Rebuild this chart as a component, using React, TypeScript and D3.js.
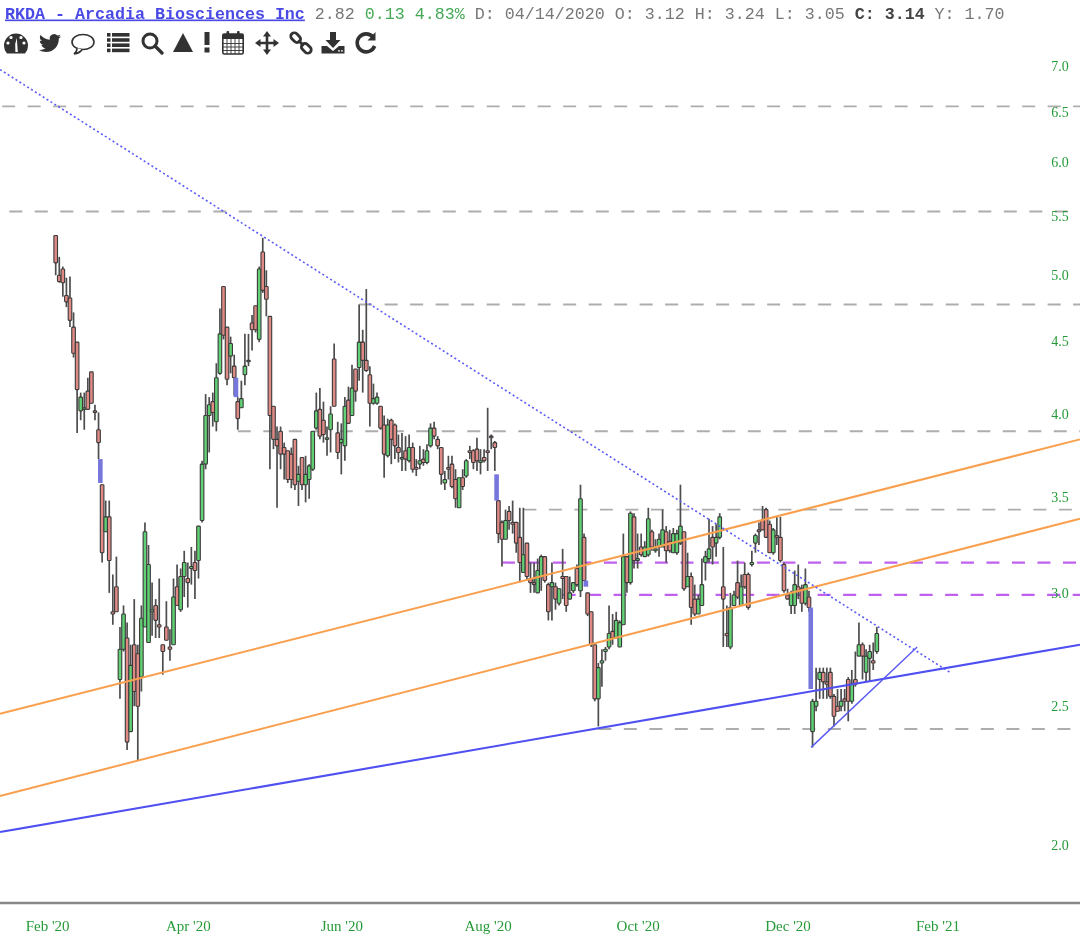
import React, { useEffect, useRef } from "react";
import * as d3 from "d3";

// daily candles, session 0 is the first bar on the chart
const opens = [
  5.33, 5.0, 5.05, 4.84, 4.82, 4.6, 4.49, 4.02, 4.03, 4.15,
  4.28, 4.02, 3.9, 3.57, 3.31, 3.39, 2.91, 3.03, 2.61, 2.74,
  2.79, 2.4, 2.76, 2.72, 2.62, 2.84, 2.77, 2.91, 2.94, 2.85,
  2.76, 2.84, 2.75, 2.76, 3.03, 2.92, 3.08, 3.07, 3.12, 3.15,
  3.16, 3.37, 3.69, 3.99, 4.08, 3.95, 4.27, 4.91, 4.6, 4.39,
  4.32, 4.08, 4.04, 4.26, 4.35, 4.63, 4.76, 4.51, 5.19, 4.91,
  4.68, 4.05, 3.84, 3.89, 3.79, 3.77, 3.75, 3.84, 3.59, 3.73,
  3.57, 3.6, 3.66, 3.91, 4.03, 3.96, 3.84, 3.9, 4.37, 3.88,
  3.82, 3.8, 4.09, 3.99, 4.3, 4.31, 4.49, 4.36, 4.26, 4.07,
  4.07, 4.05, 3.93, 3.74, 3.96, 3.93, 3.79, 3.72, 3.77, 3.71,
  3.79, 3.67, 3.69, 3.72, 3.7, 3.8, 3.91, 3.84, 3.79, 3.58,
  3.67, 3.69, 3.6, 3.44, 3.61, 3.62, 3.77, 3.77, 3.78, 3.7,
  3.73, 3.77, 3.86, 3.82, 3.48, 3.36, 3.27, 3.42, 3.36, 3.36,
  3.28, 3.1, 3.25, 3.07, 3.05, 3.0, 3.08, 3.18, 3.04, 3.03,
  3.03, 2.95, 3.08, 3.08, 2.97, 3.01, 3.12, 3.01, 3.28, 3.0,
  2.91, 2.76, 2.53, 2.68, 2.73, 2.75, 2.82, 2.79, 2.75, 2.85,
  3.18, 3.05, 3.39, 3.16, 3.23, 3.18, 3.19, 3.31, 3.21, 3.23,
  3.23, 3.31, 3.26, 3.2, 3.2, 3.25, 3.31, 3.03, 3.08, 2.97,
  2.9, 2.94, 3.15, 3.17, 3.28, 3.25, 3.28, 3.03, 2.81, 2.75,
  2.94, 3.05, 2.94, 3.09, 3.09, 3.14, 3.25, 3.32, 3.37, 3.43,
  3.35, 3.2, 3.29, 3.28, 3.14, 2.99, 2.94, 2.94, 3.03, 3.02,
  2.95, 2.98, 2.4, 2.5, 2.61, 2.64, 2.6, 2.64, 2.54, 2.5,
  2.5, 2.53, 2.61, 2.52, 2.61, 2.71, 2.76, 2.64, 2.7, 2.69,
  2.73,
];
const highs = [
  5.33, 5.15, 5.07, 4.98, 4.99, 4.71, 4.49, 4.14, 4.14, 4.24,
  4.28, 4.06, 4.01, 3.57, 3.48, 3.48, 3.09, 3.18, 2.84, 2.94,
  2.86, 2.76, 2.97, 2.76, 2.94, 3.36, 3.24, 3.05, 2.97, 3.07,
  2.76, 2.96, 2.83, 3.07, 3.14, 3.12, 3.21, 3.15, 3.23, 3.21,
  3.34, 3.71, 4.13, 4.11, 4.14, 4.34, 4.74, 4.91, 4.6, 4.53,
  4.4, 4.11, 4.22, 4.55, 4.55, 4.69, 4.76, 5.07, 5.31, 5.04,
  4.68, 4.05, 3.92, 3.92, 3.82, 3.77, 3.79, 3.84, 3.68, 3.73,
  3.74, 3.69, 3.89, 4.14, 4.17, 4.08, 3.92, 4.05, 4.48, 3.95,
  3.94, 4.11, 4.18, 4.33, 4.3, 4.77, 4.58, 4.89, 4.32, 4.2,
  4.14, 4.05, 3.99, 3.97, 3.97, 3.94, 3.87, 3.88, 3.86, 3.87,
  3.82, 3.72, 3.8, 3.78, 3.81, 3.94, 3.95, 3.86, 3.79, 3.65,
  3.74, 3.74, 3.66, 3.61, 3.66, 3.72, 3.8, 3.78, 3.85, 3.78,
  3.78, 4.04, 3.87, 3.83, 3.48, 3.37, 3.43, 3.45, 3.48, 3.36,
  3.44, 3.44, 3.25, 3.15, 3.15, 3.17, 3.19, 3.18, 3.05, 3.15,
  3.05, 3.02, 3.22, 3.08, 3.08, 3.05, 3.14, 3.57, 3.3, 3.0,
  2.91, 2.76, 2.68, 2.74, 2.75, 2.94, 2.9, 2.91, 2.87, 3.3,
  3.18, 3.42, 3.41, 3.3, 3.3, 3.26, 3.44, 3.32, 3.27, 3.3,
  3.43, 3.34, 3.32, 3.33, 3.32, 3.57, 3.31, 3.2, 3.1, 3.04,
  2.99, 3.17, 3.21, 3.38, 3.34, 3.35, 3.41, 3.23, 2.94, 3.0,
  3.01, 3.16, 3.09, 3.15, 3.1, 3.21, 3.3, 3.36, 3.45, 3.44,
  3.37, 3.33, 3.39, 3.39, 3.15, 3.02, 3.01, 3.11, 3.14, 3.04,
  3.12, 3.01, 2.53, 2.66, 2.66, 2.66, 2.66, 2.66, 2.55, 2.57,
  2.57, 2.57, 2.62, 2.65, 2.73, 2.86, 2.77, 2.74, 2.76, 2.77,
  2.84,
];
const lows = [
  5.0, 4.94, 4.83, 4.75, 4.6, 4.38, 3.88, 3.96, 3.9, 4.03,
  4.07, 3.96, 3.72, 3.15, 3.31, 3.0, 2.85, 2.91, 2.53, 2.73,
  2.33, 2.4, 2.5, 2.29, 2.56, 2.84, 2.77, 2.8, 2.79, 2.79,
  2.63, 2.78, 2.69, 2.76, 2.94, 2.91, 2.98, 2.93, 3.04, 2.97,
  3.07, 3.36, 3.66, 3.76, 3.92, 3.89, 4.26, 4.51, 4.19, 4.27,
  4.12, 3.9, 4.04, 4.19, 4.32, 4.43, 4.56, 4.49, 4.86, 4.68,
  3.66, 3.78, 3.44, 3.66, 3.6, 3.58, 3.55, 3.54, 3.45, 3.54,
  3.47, 3.49, 3.65, 3.9, 3.84, 3.82, 3.74, 3.76, 4.05, 3.72,
  3.63, 3.71, 3.94, 3.99, 4.08, 4.22, 4.14, 4.28, 3.92, 4.06,
  4.06, 3.9, 3.61, 3.73, 3.69, 3.72, 3.7, 3.65, 3.65, 3.7,
  3.64, 3.62, 3.66, 3.68, 3.69, 3.79, 3.84, 3.78, 3.57, 3.54,
  3.6, 3.55, 3.44, 3.44, 3.54, 3.61, 3.72, 3.66, 3.65, 3.63,
  3.7, 3.65, 3.78, 3.65, 3.25, 3.13, 3.27, 3.32, 3.3, 3.2,
  3.05, 3.1, 3.06, 3.0, 3.0, 3.0, 3.01, 3.05, 2.87, 2.87,
  2.92, 2.94, 2.97, 2.91, 2.97, 3.0, 3.03, 2.98, 3.06, 2.89,
  2.75, 2.52, 2.42, 2.58, 2.69, 2.74, 2.76, 2.79, 2.75, 2.85,
  3.0, 3.04, 3.12, 3.12, 3.18, 3.18, 3.18, 3.21, 3.2, 3.18,
  3.23, 3.15, 3.2, 3.2, 3.19, 3.24, 3.01, 3.03, 2.85, 2.89,
  2.9, 2.94, 3.06, 3.15, 3.14, 3.18, 3.27, 2.75, 2.75, 2.74,
  2.94, 2.97, 2.94, 3.02, 2.92, 3.13, 3.2, 3.24, 3.32, 3.28,
  3.2, 3.19, 3.24, 3.15, 3.0, 2.97, 2.9, 2.9, 2.97, 2.91,
  2.94, 2.91, 2.34, 2.48, 2.53, 2.53, 2.53, 2.53, 2.42, 2.48,
  2.48, 2.48, 2.44, 2.51, 2.58, 2.71, 2.61, 2.6, 2.6, 2.65,
  2.72,
];
const closes = [
  5.1, 4.95, 4.94, 4.79, 4.65, 4.41, 4.16, 4.11, 4.04, 4.03,
  4.07, 4.01, 3.82, 3.2, 3.39, 3.16, 2.9, 2.91, 2.74, 2.9,
  2.36, 2.67, 2.56, 2.5, 2.88, 3.31, 3.14, 2.92, 2.87, 2.84,
  2.73, 2.78, 2.74, 2.98, 2.94, 3.08, 3.15, 3.05, 3.13, 3.11,
  3.34, 3.69, 3.99, 4.06, 4.01, 4.24, 4.55, 4.54, 4.23, 4.48,
  4.24, 3.97, 4.1, 4.32, 4.36, 4.58, 4.58, 5.05, 4.88, 4.81,
  3.99, 3.84, 3.8, 3.75, 3.75, 3.6, 3.6, 3.57, 3.63, 3.57,
  3.63, 3.68, 3.89, 4.02, 3.86, 3.87, 3.85, 4.0, 4.05, 3.76,
  3.84, 4.05, 3.94, 4.17, 4.15, 4.49, 4.36, 4.29, 4.07, 4.1,
  4.11, 3.91, 3.75, 3.93, 3.84, 3.8, 3.76, 3.73, 3.72, 3.79,
  3.66, 3.66, 3.71, 3.7, 3.77, 3.91, 3.86, 3.8, 3.63, 3.6,
  3.66, 3.56, 3.49, 3.61, 3.56, 3.71, 3.76, 3.7, 3.71, 3.71,
  3.71, 3.76, 3.85, 3.79, 3.3, 3.27, 3.37, 3.37, 3.35, 3.25,
  3.15, 3.19, 3.08, 3.05, 3.04, 3.11, 3.18, 3.06, 2.91, 3.05,
  2.97, 3.02, 3.07, 2.94, 3.0, 3.05, 3.04, 3.49, 3.06, 2.9,
  2.76, 2.53, 2.66, 2.69, 2.74, 2.81, 2.79, 2.87, 2.86, 3.18,
  3.05, 3.41, 3.16, 3.17, 3.19, 3.23, 3.38, 3.23, 3.22, 3.27,
  3.32, 3.21, 3.21, 3.3, 3.3, 3.34, 3.02, 3.08, 2.93, 2.9,
  2.97, 3.04, 3.18, 3.22, 3.23, 3.28, 3.39, 2.97, 2.8, 2.93,
  2.99, 2.98, 3.03, 3.03, 2.93, 3.15, 3.29, 3.31, 3.32, 3.28,
  3.2, 3.32, 3.28, 3.16, 3.01, 2.97, 3.0, 3.04, 3.01, 2.95,
  3.04, 2.93, 2.52, 2.52, 2.64, 2.6, 2.59, 2.54, 2.46, 2.48,
  2.52, 2.52, 2.52, 2.59, 2.59, 2.76, 2.71, 2.71, 2.73, 2.68,
  2.81,
];

// blue gap bars sit between two sessions
const gapSessions = [12.5, 50.5, 123.5, 148.5, 211.5];
const gapTops = [3.72, 4.24, 3.63, 3.06, 2.93];
const gapBottoms = [3.58, 4.11, 3.48, 3.03, 2.57];

const grayLevels = [6.56, 5.54, 4.77, 3.89, 3.43, 2.41];
const grayStarts = [-15, -13, 85, 51, 131, 152];
const purpleLevels = [3.15, 2.99];
const purpleStarts = [125, 142];

// [session, price] end points of the drawn trendlines
const orangeLines = [
  [[-15.6, 2.47], [286.9, 3.84]],
  [[-15.6, 2.164], [286.9, 3.38]],
];
const blueLine = [[-15.6, 2.042], [286.9, 2.76]];
const blueShortLine = [[211.6, 2.34], [241.3, 2.75]];
const dottedLine = [[-15.6, 6.96], [250.5, 2.64]];

const priceTicks = [2, 2.5, 3, 3.5, 4, 4.5, 5, 5.5, 6, 6.5, 7];
const monthLabels = ["Feb '20", "Apr '20", "Jun '20", "Aug '20", "Oct '20", "Dec '20", "Feb '21"];
const monthSessions = [-2.4, 37, 80, 121, 163, 205, 247];

const headerParts = [
  { t: "RKDA - Arcadia Biosciences Inc", c: "#4a4ae6", w: "bold", u: true },
  { t: " 2.82 ", c: "#777", w: "normal" },
  { t: "0.13 4.83%", c: "#45a855", w: "normal" },
  { t: " D: 04/14/2020 O: 3.12 H: 3.24 L: 3.05 ", c: "#777", w: "normal" },
  { t: "C: 3.14", c: "#444", w: "bold" },
  { t: " Y: 1.70", c: "#777", w: "normal" },
];

const BIRD =
  "M23.95 4.57a10 10 0 0 1-2.82.78 4.96 4.96 0 0 0 2.16-2.72c-.95.55-2 .96-3.13 1.18a4.92 4.92 0 0 0-8.38 4.48C7.69 8.1 4.07 6.13 1.64 3.16a4.82 4.82 0 0 0-.67 2.48c0 1.71.87 3.21 2.19 4.1a4.9 4.9 0 0 1-2.23-.62v.06a4.92 4.92 0 0 0 3.95 4.83 5 5 0 0 1-2.21.08 4.94 4.94 0 0 0 4.6 3.42 9.87 9.87 0 0 1-6.1 2.1c-.39 0-.78-.02-1.17-.06a14 14 0 0 0 7.56 2.21c9.05 0 14-7.5 14-13.99 0-.21 0-.42-.02-.63A9.94 9.94 0 0 0 24 4.59z";

const ink = "#333";

function Toolbar() {
  return (
    <g fill={ink} stroke="none">
      <g transform="translate(16,44)">
        <path d="M-9,9.5 A12,12 0 1 1 9,9.5 Z" />
        <path d="M-0.6,8 L-0.8,0 L0.8,-6 L1.8,8 Z" fill="#fff" />
        <circle cx="-8" cy="-1" r="1.6" fill="#fff" />
        <circle cx="-5" cy="-6.5" r="1.6" fill="#fff" />
        <circle cx="5" cy="-6.5" r="1.6" fill="#fff" />
        <circle cx="8" cy="-1" r="1.6" fill="#fff" />
      </g>
      <path d={BIRD} transform="translate(39,32) scale(0.92)" />
      <g transform="translate(83,43)" fill="none" stroke={ink} strokeWidth="1.6">
        <ellipse cx="0" cy="-1" rx="11" ry="7.5" />
        <path d="M-6,5 Q-6,9 -9,11 Q-3,10 -1,6.5" fill="#fff" />
      </g>
      <g transform="translate(107,33)">
        {d3.range(4).map((r) => (
          <g key={r}>
            <rect x="0" y={r * 5.2} width="3.5" height="3.6" />
            <rect x="5" y={r * 5.2} width="17.5" height="3.6" />
          </g>
        ))}
      </g>
      <g transform="translate(150,41)" fill="none" stroke={ink}>
        <circle r="7" strokeWidth="3" />
        <path d="M5,5 L12,12" strokeWidth="3.4" strokeLinecap="round" />
      </g>
      <path d="M183,33 L193,52 L173,52 Z" />
      <g transform="translate(207,0)">
        <rect x="-2.5" y="32" width="5" height="13" />
        <rect x="-2.5" y="47.5" width="5" height="5" />
      </g>
      <g transform="translate(222,31)">
        <rect x="0.8" y="3" width="20.4" height="20" fill="#fff" stroke={ink} strokeWidth="1.6" rx="1.5" />
        <rect x="0.8" y="3" width="20.4" height="5" />
        <rect x="4.5" y="0" width="2.6" height="6" rx="1" />
        <rect x="15" y="0" width="2.6" height="6" rx="1" />
        <path d="M1,12.5H21M1,16H21M1,19.5H21M5,8V23M9,8V23M13,8V23M17,8V23" stroke={ink} strokeWidth="0.9" fill="none" />
      </g>
      <g transform="translate(267,43)">
        <path d="M-1.3,-7 H1.3 V-1.3 H7 V1.3 H1.3 V7 H-1.3 V1.3 H-7 V-1.3 H-1.3 Z" />
        <path d="M0,-12 L4,-6.5 H-4 Z M0,12 L4,6.5 H-4 Z M-12,0 L-6.5,-4 V4 Z M12,0 L6.5,-4 V4 Z" />
      </g>
      <g transform="translate(301,43) rotate(45)" fill="none" stroke={ink} strokeWidth="2.8">
        <rect x="-13" y="-3.5" width="11" height="7" rx="3.5" />
        <rect x="2" y="-3.5" width="11" height="7" rx="3.5" />
        <path d="M-4,0 H4" />
      </g>
      <g transform="translate(333,43)">
        <path d="M-3,-11 H3 V-3 H7.5 L0,5 L-7.5,-3 H-3 Z" />
        <path d="M-11.5,3 H-6 L0,8 L6,3 H11.5 V10.5 H-11.5 Z" />
        <circle cx="6" cy="7.8" r="0.9" fill="#fff" />
        <circle cx="9" cy="7.8" r="0.9" fill="#fff" />
      </g>
      <g transform="translate(366,43)">
        <path d="M7,-6 A9,9 0 1 0 8.6,3" fill="none" stroke={ink} strokeWidth="3.6" />
        <path d="M9.5,-11 V-2.5 H1.5 Z" />
      </g>
    </g>
  );
}

export default function App() {
  const chartRef = useRef<SVGGElement | null>(null);

  useEffect(() => {
    const x = d3.scaleLinear().domain([0, 230]).range([55.7, 876.8]);
    const y = d3.scaleLog().domain([2, 7]).range([845, 66]);
    const rightEdge = x.invert(1080);

    const g = d3.select(chartRef.current);
    g.selectAll("*").remove();

    const trend = d3
      .line<number[]>()
      .x((d) => x(d[0]))
      .y((d) => y(d[1]));

    // horizontal levels
    const drawLevels = (levels: number[], starts: number[], color: string, width: number) => {
      g.append("g")
        .selectAll("line")
        .data(levels)
        .enter()
        .append("line")
        .attr("x1", (_, i) => x(starts[i]))
        .attr("x2", x(rightEdge))
        .attr("y1", (d) => y(d))
        .attr("y2", (d) => y(d))
        .attr("stroke", color)
        .attr("stroke-width", width)
        .attr("stroke-dasharray", "13 12.5");
    };
    drawLevels(grayLevels, grayStarts, "#adadad", 1.9);
    drawLevels(purpleLevels, purpleStarts, "#c060ee", 2.2);

    // wicks
    g.append("g")
      .selectAll("line")
      .data(d3.range(opens.length))
      .enter()
      .append("line")
      .attr("x1", (i) => x(i))
      .attr("x2", (i) => x(i))
      .attr("y1", (i) => y(highs[i]))
      .attr("y2", (i) => y(lows[i]))
      .attr("stroke", "#4d4d4d")
      .attr("stroke-width", 1.7);

    // bodies
    g.append("g")
      .selectAll("rect")
      .data(d3.range(opens.length))
      .enter()
      .append("rect")
      .attr("x", (i) => x(i) - 1.8)
      .attr("width", 3.6)
      .attr("y", (i) => y(Math.max(opens[i], closes[i])))
      .attr("height", (i) => Math.max(1, Math.abs(y(opens[i]) - y(closes[i]))))
      .attr("rx", 0.8)
      .attr("fill", (i) => (closes[i] > opens[i] ? "#62d074" : "#e08a86"))
      .attr("stroke", "#3a3a3a")
      .attr("stroke-width", 1.1);

    // gap bars
    g.append("g")
      .selectAll("rect")
      .data(gapSessions)
      .enter()
      .append("rect")
      .attr("x", (d) => x(d) - 2.3)
      .attr("width", 4.6)
      .attr("y", (_, i) => y(gapTops[i]))
      .attr("height", (_, i) => y(gapBottoms[i]) - y(gapTops[i]))
      .attr("fill", "#7676dc");

    // trendlines on top of the candles
    orangeLines.forEach((pts) => {
      g.append("path")
        .attr("d", trend(pts))
        .attr("fill", "none")
        .attr("stroke", "#f9a050")
        .attr("stroke-width", 2);
    });
    g.append("path")
      .attr("d", trend(blueLine))
      .attr("fill", "none")
      .attr("stroke", "#4f4ff2")
      .attr("stroke-width", 2.1);
    g.append("path")
      .attr("d", trend(blueShortLine))
      .attr("fill", "none")
      .attr("stroke", "#5a5af2")
      .attr("stroke-width", 1.4);
    g.append("path")
      .attr("d", trend(dottedLine))
      .attr("fill", "none")
      .attr("stroke", "#5a5af6")
      .attr("stroke-width", 1.6)
      .attr("stroke-dasharray", "2 2.6");

    // x axis
    const xAxis = g
      .append("g")
      .attr("transform", "translate(0,903)")
      .call(
        d3
          .axisBottom(x)
          .tickValues(monthSessions)
          .tickSize(0)
          .tickPadding(17)
          .tickFormat((_, i) => monthLabels[i])
      );
    xAxis.select(".domain").remove();
    xAxis
      .append("line")
      .attr("x1", 0)
      .attr("x2", 1080)
      .attr("stroke", "#888")
      .attr("stroke-width", 2.6);
    xAxis
      .selectAll("text")
      .attr("fill", "#259a38")
      .style("font-family", "'Liberation Serif', serif")
      .style("font-size", "15px");

    // y axis
    const yAxis = g
      .append("g")
      .attr("transform", "translate(1060,0)")
      .call(
        d3
          .axisRight(y)
          .tickValues(priceTicks)
          .tickSize(0)
          .tickPadding(0)
          .tickFormat((d) => d3.format(".1f")(d as number))
      );
    yAxis.select(".domain").remove();
    yAxis
      .selectAll("text")
      .attr("fill", "#259a38")
      .attr("text-anchor", "middle")
      .style("font-family", "'Liberation Serif', serif")
      .style("font-size", "14px");
  }, []);

  return (
    <svg
      width={1080}
      height={943}
      viewBox="0 0 1080 943"
      style={{ position: "absolute", left: 0, top: 0, display: "block", background: "#fff" }}
    >
      <defs>
        <filter id="soft" x="-2%" y="-2%" width="104%" height="104%">
          <feGaussianBlur stdDeviation="0.5" />
        </filter>
      </defs>
      <g filter="url(#soft)">
        <g ref={chartRef} />
        <text
          x={5}
          y={18.5}
          xmlSpace="preserve"
          style={{ fontFamily: "'Liberation Mono', monospace", fontSize: 16.67, whiteSpace: "pre" }}
        >
          {headerParts.map((p, i) => (
            <tspan key={i} fill={p.c} fontWeight={p.w} textDecoration={p.u ? "underline" : undefined}>
              {p.t}
            </tspan>
          ))}
        </text>
        <Toolbar />
      </g>
    </svg>
  );
}
